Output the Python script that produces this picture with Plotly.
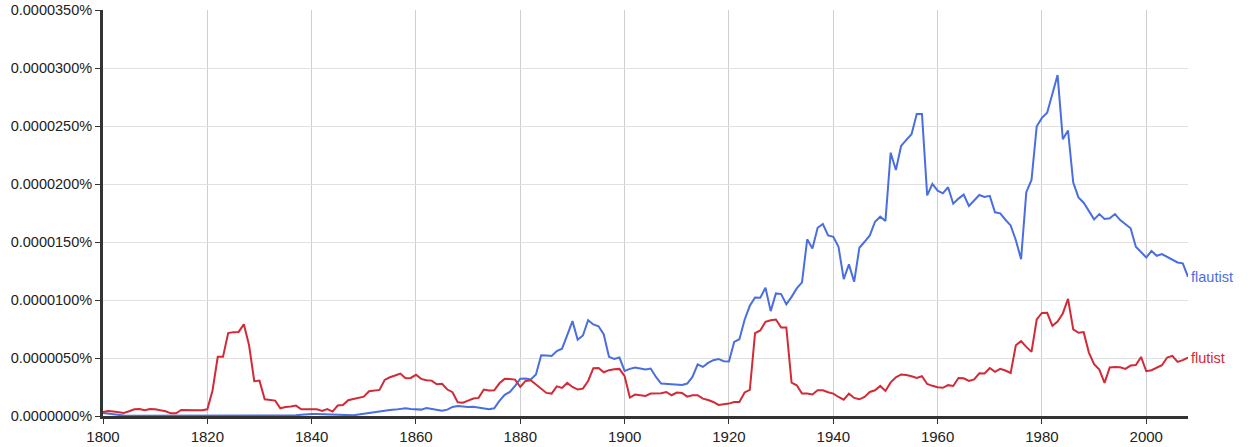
import plotly.graph_objects as go

# ngram frequencies, in units of 0.0000001 %
years = list(range(1800, 2009))

flautist = [
    2.6, 2.0, 1.5, 0.8, 0.4,
    0.3, 0.3, 0.3, 0.3, 0.3, 0.3, 0.3, 0.3, 0.3, 0.3, 0.3, 0.3, 0.3, 0.3, 0.3, 0.3,
    0.3, 0.3, 0.3, 0.3, 0.3, 0.3, 0.3, 0.3, 0.3, 0.3, 0.3, 0.3, 0.3, 0.3, 0.3, 0.3,
    0.6, 1.0, 1.5, 1.7, 1.7, 1.5, 1.2, 0.8, 0.6, 0.5, 0.5, 0.6, 1.3,
    2.0, 2.7, 3.5, 4.2, 4.9, 5.2, 5.5, 6.0, 6.6, 6.0,
    5.6, 5.5, 6.9, 6.0, 4.9, 4.6, 5.5, 7.8, 8.6, 8.1,
    7.8, 8.0, 7.2, 6.3, 5.8, 6.6, 13.0, 18.2, 20.7, 26.0,
    32.2, 32.4, 31.5, 35.8, 52.4, 52.1, 51.8, 56.0, 58.0, 69.7,
    81.8, 65.7, 69.4, 82.6, 78.9, 77.4, 70.3, 51.0, 49.2, 50.4,
    38.9, 40.6, 41.8, 40.9, 40.0, 40.9, 33.7, 28.0, 27.7, 27.4,
    27.1, 26.8, 28.0, 33.7, 44.6, 42.3, 45.8, 48.1, 49.2, 47.2,
    47.0, 63.9, 66.2, 83.0, 95.0, 102.2, 102.0, 110.5, 90.4, 105.7,
    105.1, 96.2, 102.7, 110.0, 115.2, 152.3, 144.5, 162.3, 165.5, 155.7,
    154.5, 145.9, 118.0, 130.7, 115.7, 145.0, 150.2, 155.7, 167.5, 171.8,
    168.1, 227.0, 212.0, 232.8, 238.0, 242.9, 260.3, 260.3, 190.2, 200.0,
    194.2, 192.0, 197.2, 183.0, 187.4, 190.8, 181.1, 185.6, 190.5, 188.8,
    189.8, 175.6, 174.7, 169.2, 164.3, 151.5, 135.2, 193.0, 203.5, 249.8,
    257.0, 261.4, 278.0, 293.9, 238.6, 246.1, 201.2, 188.5, 183.9, 176.1,
    169.5, 174.1, 169.8, 170.4, 174.1, 168.9, 165.5, 161.8, 145.9, 141.6,
    136.7, 142.2, 138.1, 139.6, 137.3, 134.4, 132.4, 131.6, 120.0,
]

flutist = [
    3.5, 4.3, 3.8, 3.2, 2.6, 4.1, 5.8, 6.0, 4.9, 6.0,
    5.8, 4.9, 4.1, 2.3, 2.3, 5.2, 4.9, 4.9, 4.9, 4.9,
    5.8, 22.0, 51.0, 51.0, 71.5, 72.3, 72.5, 79.0, 61.0, 30.0,
    30.5, 14.4, 13.6, 13.3, 6.6, 7.8, 8.1, 9.0, 5.8, 5.8,
    5.8, 5.8, 4.3, 6.0, 3.8, 9.0, 9.5, 13.6, 14.7, 15.6,
    16.7, 21.3, 21.9, 22.5, 31.1, 33.4, 34.9, 36.6, 32.5, 32.8,
    35.5, 32.0, 30.8, 30.5, 27.4, 27.7, 22.8, 20.5, 11.8, 11.5,
    13.3, 15.0, 15.6, 22.8, 22.0, 22.2, 28.2, 32.0, 31.8, 31.4,
    25.0, 30.2, 30.8, 27.1, 22.8, 19.9, 19.3, 25.6, 24.2, 28.5,
    25.0, 22.8, 23.6, 30.2, 41.2, 41.4, 37.7, 39.5, 40.3, 40.6,
    34.3, 15.9, 18.5, 17.6, 17.3, 19.3, 19.6, 19.6, 20.7, 17.9,
    20.2, 19.9, 16.7, 17.9, 17.9, 15.0, 13.8, 12.1, 9.5, 10.1,
    10.7, 12.1, 12.1, 20.3, 22.5, 71.5, 73.7, 81.2, 82.6, 83.2,
    76.3, 76.3, 28.7, 26.5, 19.3, 19.3, 18.5, 22.2, 22.2, 20.5,
    19.3, 16.4, 14.1, 19.3, 15.6, 14.4, 16.4, 20.7, 22.2, 25.9,
    21.6, 29.0, 33.3, 35.8, 35.4, 34.3, 32.8, 34.3, 27.6, 26.0,
    24.8, 24.3, 26.6, 25.9, 32.8, 32.5, 30.3, 31.6, 36.8, 36.6,
    41.4, 38.0, 40.6, 39.2, 37.1, 61.0, 64.5, 59.6, 55.3, 83.2,
    88.9, 89.0, 77.7, 81.5, 88.4, 101.0, 74.6, 71.7, 72.3, 54.7,
    44.6, 40.0, 28.5, 41.8, 42.3, 42.0, 40.6, 43.5, 44.0, 50.9,
    38.6, 39.5, 41.8, 43.8, 50.4, 51.8, 46.6, 48.1, 50.4,
]

y_ticks = [0, 50, 100, 150, 200, 250, 300, 350]
x_ticks = [1800, 1820, 1840, 1860, 1880, 1900, 1920, 1940, 1960, 1980, 2000]

BLUE = "#4a6ee0"
RED = "#d22a36"

fig = go.Figure()
fig.add_trace(go.Scatter(x=years, y=flautist, mode="lines", name="flautist",
                         line=dict(color=BLUE, width=2)))
fig.add_trace(go.Scatter(x=years, y=flutist, mode="lines", name="flutist",
                         line=dict(color=RED, width=2)))

# series labels at the right end of each line
fig.add_annotation(x=years[-1], y=flautist[-1], text="flautist", showarrow=False,
                   xanchor="left", xshift=1, font=dict(color=BLUE, size=14.5))
fig.add_annotation(x=years[-1], y=flutist[-1], text="flutist", showarrow=False,
                   xanchor="left", xshift=1, font=dict(color=RED, size=14.5))

fig.update_layout(
    width=1251, height=447,
    margin=dict(l=103, r=63, t=10, b=31),
    paper_bgcolor="white", plot_bgcolor="white",
    showlegend=False,
    font=dict(family="Liberation Sans, Arial, sans-serif", color="#222"),
)
fig.update_xaxes(
    range=[1800, 2008], tickvals=x_ticks, ticks="outside", ticklen=5, tickwidth=1,
    tickcolor="#333", showline=True, linewidth=3, linecolor="#333",
    showgrid=True, gridcolor="#cfcfcf", gridwidth=1, zeroline=False,
    tickfont=dict(size=15), automargin=False,
)
fig.update_yaxes(
    range=[0, 350], tickvals=y_ticks,
    ticktext=["%.7f%%" % (v * 1e-7) for v in y_ticks],
    ticks="outside", ticklen=5, tickwidth=1, tickcolor="#333",
    showline=True, linewidth=3, linecolor="#333",
    showgrid=True, gridcolor="#e0e0e0", gridwidth=1, zeroline=False,
    tickfont=dict(size=14.5), automargin=False,
)

# drop the browser's default 8px body margin so the figure sits at the page corner
fig.write_html("out.html", config={"displayModeBar": False},
               post_script="document.body.style.margin = '0';")
